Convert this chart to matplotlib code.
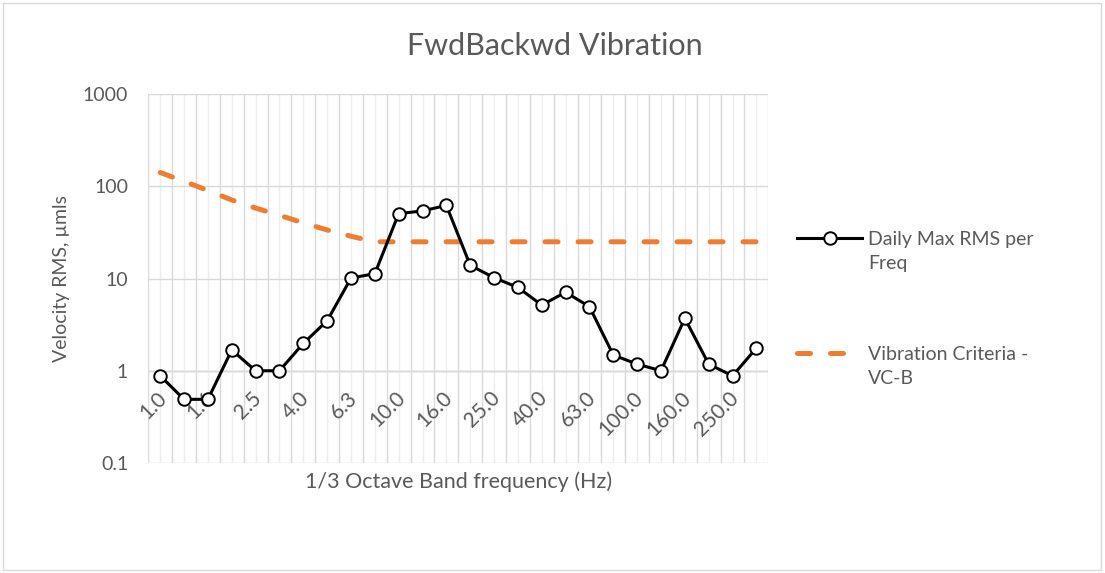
import numpy as np
import matplotlib
matplotlib.use("Agg")
import matplotlib.pyplot as plt
from matplotlib.lines import Line2D
from matplotlib.patches import Rectangle
from matplotlib.transforms import ScaledTranslation

# ---- data ----
freqs = [1.0, 1.25, 1.6, 2.0, 2.5, 3.15, 4.0, 5.0, 6.3, 8.0, 10.0, 12.5, 16.0,
         20.0, 25.0, 31.5, 40.0, 50.0, 63.0, 80.0, 100.0, 125.0, 160.0, 200.0,
         250.0, 315.0]
daily_max = [0.88, 0.49, 0.49, 1.68, 1.0, 1.0, 1.98, 3.48, 10.1, 11.3, 50.5,
             54.0, 62.0, 13.9, 10.2, 8.0, 5.15, 7.1, 4.95, 1.48, 1.18, 1.0,
             3.7, 1.18, 0.88, 1.76]
vc_b = [141, 113, 90, 71, 58, 48.5, 40, 33.6, 28.7, 25, 25, 25, 25, 25, 25,
        25, 25, 25, 25, 25, 25, 25, 25, 25, 25, 25]
tick_labels = ["%.1f" % f for f in freqs]

title = "FwdBackwd Vibration"
xlabel = "1/3 Octave Band frequency (Hz)"
ylabel = "Velocity RMS, µmls"
series1_name = "Daily Max RMS per\nFreq"
series2_name = "Vibration Criteria -\nVC-B"

# ---- style ----
W, H = 1105, 573
FONT = "Lato"
TXT = "#595959"
GRID = "#d9d9d9"
MINOR_GRID = "#eeeeee"
ORANGE = "#ED7D31"

plt.rcParams["font.family"] = [FONT, "DejaVu Sans"]

def fx(x):
    return x / W

def fy(y):
    return 1 - y / H

fig = plt.figure(figsize=(W / 100, H / 100), dpi=100)

# chart border
fig.patches.append(Rectangle((fx(3), fy(570)), fx(1101) - fx(3), fy(3) - fy(570),
                             transform=fig.transFigure, fill=False,
                             edgecolor=GRID, linewidth=1.0))

L, R, T, B = 148.3, 768.3, 94, 463
ax = fig.add_axes([fx(L), fy(B), fx(R) - fx(L), fy(T) - fy(B)])

x = np.arange(len(freqs))
ax.set_yscale("log")
ax.set_ylim(0.1, 1000)
ax.set_xlim(-0.5, len(freqs) - 0.5)

# grid
ax.set_xticks(x)
ax.set_xticks(np.arange(-0.5, len(freqs), 1.0), minor=True)
ax.set_yticks([0.1, 1, 10, 100, 1000])
ax.set_yticklabels(["0.1", "1", "10", "100", "1000"])
ax.yaxis.set_minor_locator(matplotlib.ticker.NullLocator())
ax.grid(True, which="minor", axis="x", color=GRID, linewidth=1.0, zorder=0)
ax.grid(True, which="major", axis="x", color=MINOR_GRID, linewidth=1.0, zorder=0)
ax.grid(True, which="major", axis="y", color=GRID, linewidth=1.0, zorder=0)
ax.set_xticklabels([])
ax.tick_params(axis="x", which="both", length=0)
ax.tick_params(axis="y", which="both", length=0, pad=14.5,
               labelsize=14, labelcolor=TXT)
for s in ax.spines.values():
    s.set_visible(False)
ax.axhline(1, color="#bfbfbf", linewidth=1.0, zorder=1)

# category labels at the y=1 crossing
off = ScaledTranslation(-4 / 100, -17 / 100, fig.dpi_scale_trans)
for i, lab in enumerate(tick_labels):
    if i % 2 == 0:
        ax.text(i, 1, lab, transform=ax.transData + off, rotation=45,
                rotation_mode="anchor", ha="right", va="top",
                fontsize=15, color=TXT, zorder=2)

# series
ax.plot(x, vc_b, color=ORANGE, linewidth=3.6, dashes=(2.6, 4.0),
        dash_capstyle="round", solid_capstyle="round", zorder=3)
ax.plot(x, daily_max, color="black", linewidth=2.2, marker="o",
        markersize=9, markerfacecolor="white", markeredgecolor="black",
        markeredgewidth=1.4, zorder=4)

# titles
fig.text(fx(555), fy(46), title, ha="center", va="center", fontsize=22,
         color=TXT)
fig.text(fx((L + R) / 2), fy(482), xlabel, ha="center", va="center",
         fontsize=15.5, color=TXT)
fig.text(fx(62), fy((T + B) / 2), ylabel, ha="center", va="center",
         rotation=90, fontsize=14, color=TXT)

# legend (manual, Excel-like)
leg_ax = fig.add_axes([0, 0, 1, 1], facecolor="none")
leg_ax.set_xlim(0, W)
leg_ax.set_ylim(H, 0)
leg_ax.axis("off")
leg_ax.add_line(Line2D([797, 862], [238, 238], color="black", linewidth=2.2))
leg_ax.add_line(Line2D([829.5], [238], marker="o", markersize=9,
                       markerfacecolor="white", markeredgecolor="black",
                       markeredgewidth=1.4, linestyle="none"))
leg_ax.add_line(Line2D([797, 850], [353, 353], color=ORANGE, linewidth=3.6,
                       dashes=(2.6, 4.0), dash_capstyle="round"))
leg_ax.text(868, 251.5, series1_name, ha="left", va="center", fontsize=14,
            color=TXT, linespacing=1.45)
leg_ax.text(868, 366.5, series2_name, ha="left", va="center", fontsize=14,
            color=TXT, linespacing=1.45)

fig.savefig("out.png", dpi=100)
